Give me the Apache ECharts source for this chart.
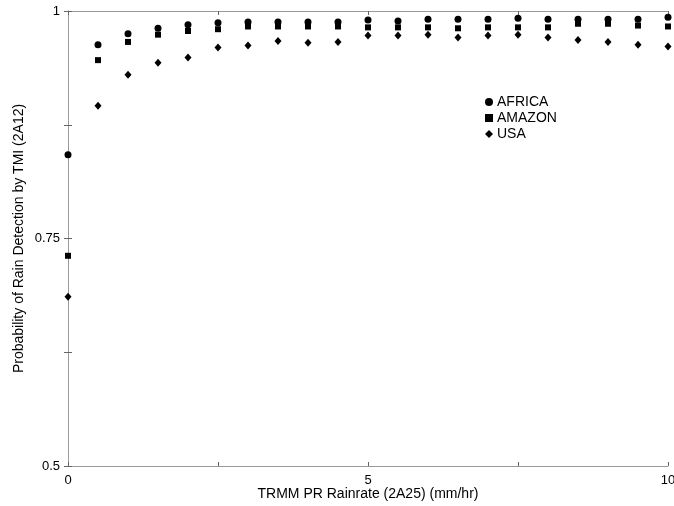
<!DOCTYPE html>
<html>
<head>
<meta charset="utf-8">
<script src="https://cdn.jsdelivr.net/npm/echarts@6/dist/echarts.min.js"></script>
<style>html,body{margin:0;padding:0;background:#fff;}#c{width:674px;height:506px;}</style>
</head>
<body>
<div id="c"></div>
<script>
var rainrate = [0, 0.5, 1, 1.5, 2, 2.5, 3, 3.5, 4, 4.5, 5, 5.5, 6, 6.5, 7, 7.5, 8, 8.5, 9, 9.5, 10];
var africa = [0.842, 0.963, 0.975, 0.981, 0.985, 0.987, 0.988, 0.988, 0.988, 0.988, 0.990, 0.989, 0.991, 0.991, 0.991, 0.992, 0.991, 0.991, 0.991, 0.991, 0.993];
var amazon = [0.731, 0.946, 0.966, 0.974, 0.978, 0.980, 0.983, 0.983, 0.983, 0.983, 0.982, 0.982, 0.982, 0.981, 0.982, 0.982, 0.982, 0.986, 0.986, 0.984, 0.983];
var usa = [0.686, 0.896, 0.930, 0.943, 0.949, 0.960, 0.962, 0.967, 0.965, 0.966, 0.973, 0.973, 0.974, 0.971, 0.973, 0.974, 0.971, 0.968, 0.966, 0.963, 0.961];
var seriesNames = ['AFRICA', 'AMAZON', 'USA'];
var xTickLabels = ['0', '5', '10'];
var yTickLabels = ['0.5', '0.75', '1'];

function pairs(ys) { return rainrate.map(function (x, i) { return [x, ys[i]]; }); }

var font = 'Liberation Sans, Arial, Helvetica, sans-serif';
var lineStyle = { color: '#9a9a9a', width: 1 };
var tick = { show: true, inside: true, length: 4, lineStyle: { color: '#666' } };

var chart = echarts.init(document.getElementById('c'));
chart.setOption({
  animation: false,
  backgroundColor: '#fff',
  textStyle: { fontFamily: font },
  grid: { left: 68, right: 6, top: 11, bottom: 40, containLabel: false, outerBoundsMode: 'none' },
  legend: {
    orient: 'vertical', left: 480, top: 90,
    itemWidth: 8, itemHeight: 8, itemGap: 2,
    textStyle: { fontFamily: font, fontSize: 14, color: '#000', padding: [0, 0, 0, -1] },
    data: [
      { name: seriesNames[0], icon: 'circle' },
      { name: seriesNames[1], icon: 'rect' },
      { name: seriesNames[2], icon: 'diamond' }
    ]
  },
  xAxis: [{
    type: 'value', min: 0, max: 10, interval: 2.5, position: 'bottom',
    name: 'TRMM PR Rainrate (2A25) (mm/hr)', nameLocation: 'middle', nameGap: 21, nameMoveOverlap: false,
    nameTextStyle: { fontFamily: font, fontSize: 14, color: '#000', padding: 0 },
    axisLine: { show: true, lineStyle: lineStyle },
    axisTick: tick,
    splitLine: { show: false },
    axisLabel: {
      margin: 8, fontSize: 13, color: '#000', fontFamily: font,
      formatter: function (v) { var s = String(v); return xTickLabels.indexOf(s) >= 0 ? s : ''; }
    }
  }, {
    type: 'value', min: 0, max: 10, interval: 2.5, position: 'top',
    axisLine: { show: true, lineStyle: lineStyle },
    axisTick: tick, axisLabel: { show: false }, splitLine: { show: false }
  }],
  yAxis: [{
    type: 'value', min: 0.5, max: 1, interval: 0.125, position: 'left',
    name: 'Probability of Rain Detection by TMI (2A12)', nameLocation: 'middle', nameGap: 42, nameMoveOverlap: false,
    nameTextStyle: { fontFamily: font, fontSize: 14, color: '#000', padding: 0 },
    axisLine: { show: true, lineStyle: lineStyle },
    axisTick: tick,
    splitLine: { show: false },
    axisLabel: {
      margin: 8, fontSize: 13, color: '#000', fontFamily: font,
      formatter: function (v) { var s = String(v); return yTickLabels.indexOf(s) >= 0 ? s : ''; }
    }
  }, {
    type: 'value', min: 0.5, max: 1, interval: 0.125, position: 'right',
    axisLine: { show: true, lineStyle: lineStyle },
    axisTick: tick, axisLabel: { show: false }, splitLine: { show: false }
  }],
  series: [
    { name: seriesNames[0], type: 'scatter', symbol: 'circle', symbolSize: 7, itemStyle: { color: '#000', opacity: 1 }, data: pairs(africa) },
    { name: seriesNames[1], type: 'scatter', symbol: 'rect', symbolSize: 6, itemStyle: { color: '#000', opacity: 1 }, data: pairs(amazon) },
    { name: seriesNames[2], type: 'scatter', symbol: 'diamond', symbolSize: [7, 8], itemStyle: { color: '#000', opacity: 1 }, data: pairs(usa) }
  ]
});
</script>
</body>
</html>
